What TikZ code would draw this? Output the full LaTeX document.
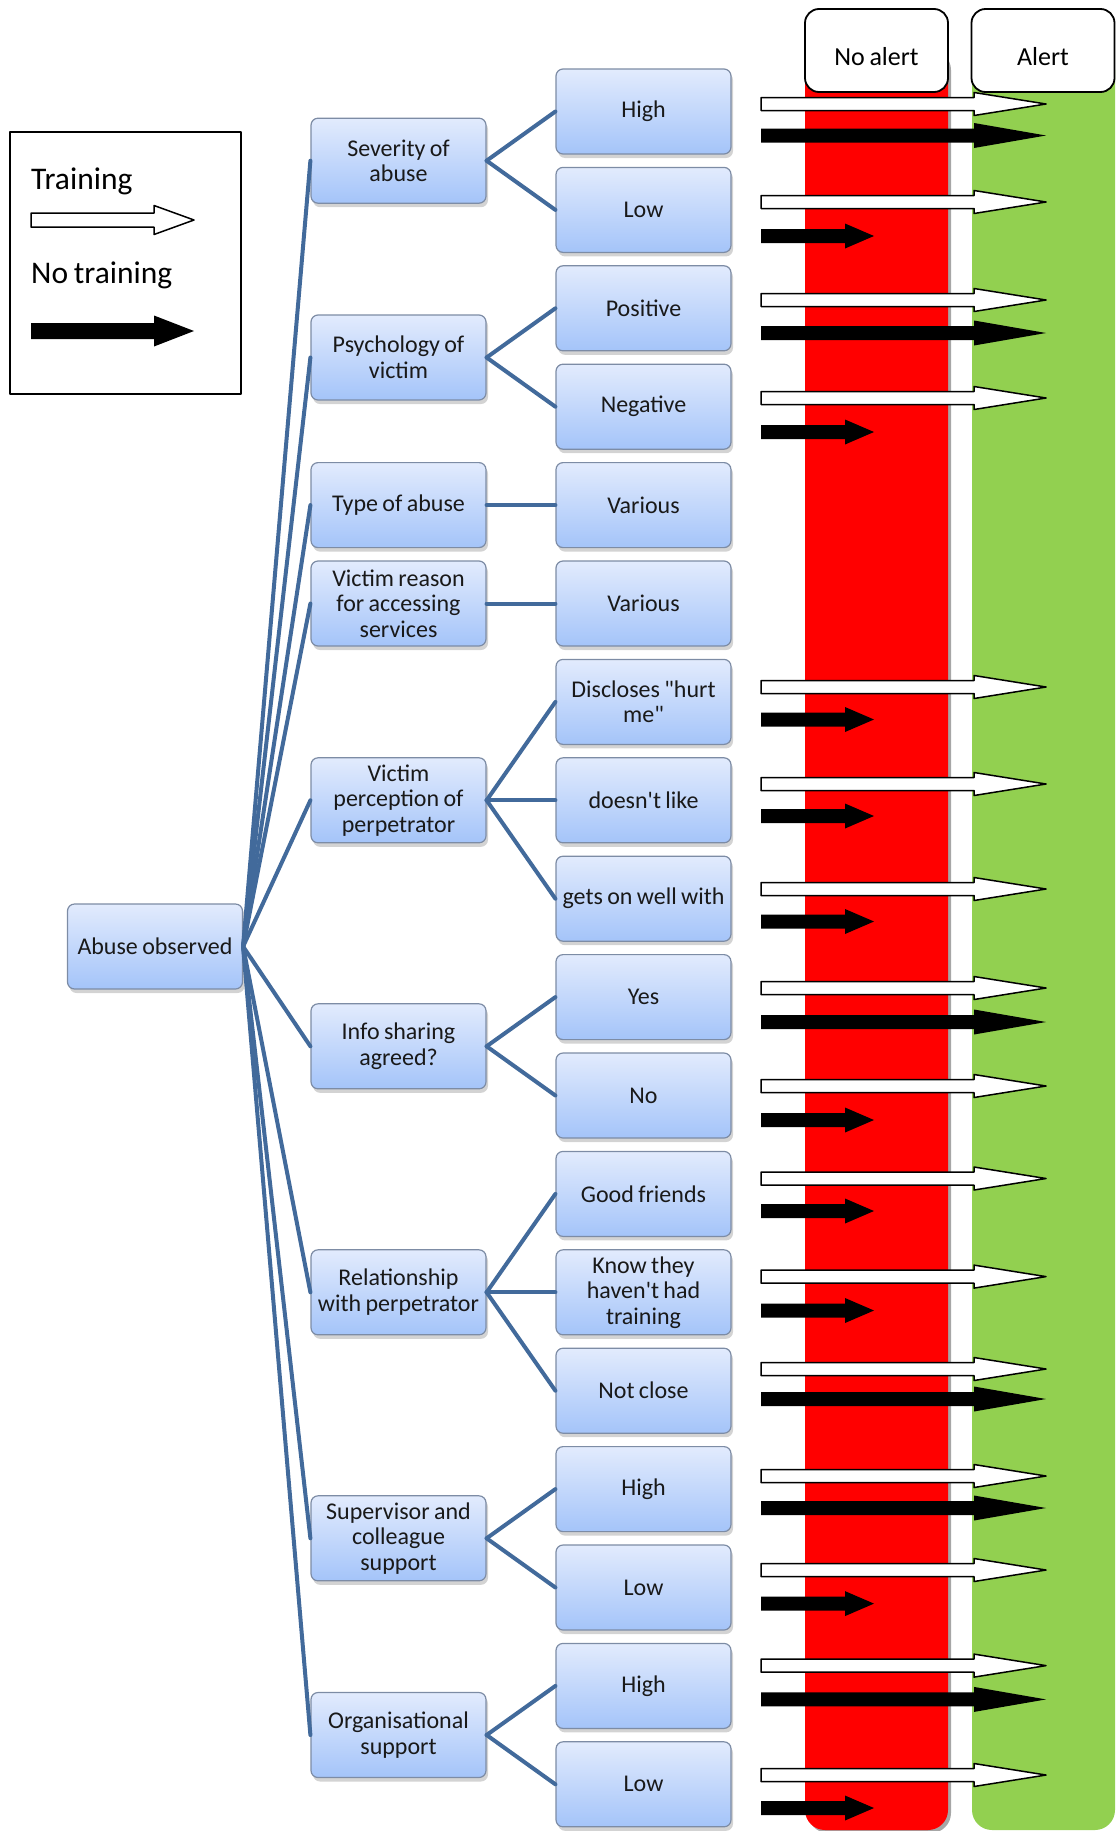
\documentclass[tikz,border=0pt]{standalone}
\usepackage{fontspec}
\setmainfont{Carlito}[WordSpace=0.8]
\usepackage{xcolor}
\usepackage{tikz}
\usetikzlibrary{positioning, shadows}

\definecolor{boxtop}{RGB}{226,235,253}
\definecolor{boxbottom}{RGB}{164,196,249}
\definecolor{boxborder}{RGB}{125,140,165}
\definecolor{linkblue}{RGB}{66,106,155}
\definecolor{noalertred}{RGB}{255,0,0}
\definecolor{alertgreen}{RGB}{146,208,80}

\begin{document}
\begin{tikzpicture}[
        x=1pt,
        y=-1pt,
        line join=round,
        line cap=round,
        box/.style={draw=boxborder, line width=1.2pt, rounded corners=7pt,
            top color=boxtop, bottom color=boxbottom,
            minimum width=175pt, minimum height=85pt,
            align=center, inner sep=0pt, text=black!90,
            font=\fontsize{24}{25.5}\selectfont,
            drop shadow={shadow xshift=2pt, shadow yshift=-4pt, opacity=0.35}},
        headbox/.style={draw=black, line width=1.8pt, fill=white,
            rounded corners=14pt, minimum width=143pt, minimum height=83pt,
            inner sep=0pt, text height=29pt, text depth=0pt,
            font=\fontsize{26}{28}\selectfont},
        link/.style={draw=linkblue, line width=4pt},
        trainarrow/.style={draw=black, line width=1.5pt, fill=white},
        notrainarrow/.style={fill=black}
    ]

        \useasboundingbox (0,0) rectangle (1118,1831);

        % =================================
        % CỘT KẾT QUẢ
        % =================================

        % No alert - bóng
        \fill[black!35, rounded corners=20pt]
            (808,50) rectangle (951,1833);

        % No alert
        \fill[noalertred, rounded corners=20pt]
            (805,50) rectangle (948,1830);

        % Alert
        \fill[alertgreen, rounded corners=20pt]
            (972,50) rectangle (1115,1830);

        \node[headbox] (noalert) at (876.5,50.5) {No alert};
        \node[headbox] (alert) at (1043,50.5) {Alert};


        % =================================
        % CHÚ THÍCH
        % =================================

        \draw[line width=1.8pt]
            (9.6,132) rectangle (241,394);

        \node[anchor=base west, inner sep=0pt,
            font=\fontsize{31.5}{33}\selectfont] (trainlabel)
            at (31,189) {Training};
        \node[anchor=base west, inner sep=0pt,
            font=\fontsize{31.5}{33}\selectfont] (notrainlabel)
            at (31,283) {No training};

        \draw[trainarrow]
            (31,213) -- (154,213) -- (154,205.5) -- (194,220)
            -- (154,234.5) -- (154,227) -- (31,227) -- cycle;

        \fill[notrainarrow]
            (31,323) -- (154,323) -- (154,315.5) -- (194,331)
            -- (154,346.5) -- (154,339) -- (31,339) -- cycle;


        % =================================
        % CÂY QUYẾT ĐỊNH
        % =================================

        % Gốc
        \node[box] (root) at (155,946.5) {Abuse observed};

        % Các yếu tố
        \node[box] (sev) at (398.5,160.7) {Severity of\\abuse};
        \node[box] (psy) at (398.5,357.5) {Psychology of\\victim};
        \node[box] (type) at (398.5,505.1) {Type of abuse};
        \node[box] (reason) at (398.5,603.5) {Victim reason\\for accessing\\services};
        \node[box] (percep) at (398.5,800.3) {Victim\\perception of\\perpetrator};
        \node[box] (info) at (398.5,1046.3) {Info sharing\\agreed?};
        \node[box] (rel) at (398.5,1292.3) {Relationship\\with perpetrator};
        \node[box] (sup) at (398.5,1538.3) {Supervisor and\\colleague\\support};
        \node[box] (org) at (398.5,1735) {Organisational\\support};

        % Các lựa chọn
        \node[box] (sevhigh) at (643.5,111.5) {High};
        \node[box] (sevlow) at (643.5,209.9) {Low};
        \node[box] (psypos) at (643.5,308.3) {Positive};
        \node[box] (psyneg) at (643.5,406.7) {Negative};
        \node[box] (typevar) at (643.5,505.1) {Various};
        \node[box] (reasonvar) at (643.5,603.5) {Various};
        \node[box] (hurt) at (643.5,701.9) {Discloses \textquotedbl hurt\\me\textquotedbl};
        \node[box] (dislike) at (643.5,800.3) {doesn\textquotesingle t like};
        \node[box] (wellwith) at (643.5,898.7) {gets on well with};
        \node[box] (infoyes) at (643.5,997.1) {Yes};
        \node[box] (infono) at (643.5,1095.5) {No};
        \node[box] (friends) at (643.5,1193.9) {Good friends};
        \node[box] (notrained) at (643.5,1292.3) {Know they\\haven\textquotesingle t had\\training};
        \node[box] (notclose) at (643.5,1390.7) {Not close};
        \node[box] (suphigh) at (643.5,1489.1) {High};
        \node[box] (suplow) at (643.5,1587.5) {Low};
        \node[box] (orghigh) at (643.5,1685.9) {High};
        \node[box] (orglow) at (643.5,1784.3) {Low};


        % =================================
        % ĐƯỜNG NỐI
        % =================================

        \foreach \m in {sev, psy, type, reason, percep, info, rel, sup, org}
            \draw[link] (root.east) -- (\m.west);

        \draw[link] (sev.east) -- (sevhigh.west);
        \draw[link] (sev.east) -- (sevlow.west);
        \draw[link] (psy.east) -- (psypos.west);
        \draw[link] (psy.east) -- (psyneg.west);
        \draw[link] (type.east) -- (typevar.west);
        \draw[link] (reason.east) -- (reasonvar.west);
        \draw[link] (percep.east) -- (hurt.west);
        \draw[link] (percep.east) -- (dislike.west);
        \draw[link] (percep.east) -- (wellwith.west);
        \draw[link] (info.east) -- (infoyes.west);
        \draw[link] (info.east) -- (infono.west);
        \draw[link] (rel.east) -- (friends.west);
        \draw[link] (rel.east) -- (notrained.west);
        \draw[link] (rel.east) -- (notclose.west);
        \draw[link] (sup.east) -- (suphigh.west);
        \draw[link] (sup.east) -- (suplow.west);
        \draw[link] (org.east) -- (orghigh.west);
        \draw[link] (org.east) -- (orglow.west);


        % =================================
        % MŨI TÊN KẾT QUẢ
        % =================================

        % Training - tới Alert
        \foreach \y in {104,202,300,398,687,784,889,988,1086,1178.5,
                1276.6,1369,1476,1570,1665.6,1775}
            \draw[trainarrow]
                (761,\y-6.5) -- (974,\y-6.5) -- (974,\y-11.5) -- (1046,\y)
                -- (974,\y+11.5) -- (974,\y+6.5) -- (761,\y+6.5) -- cycle;

        % No training - tới Alert
        \foreach \y in {135.5,333,1022,1399,1508,1699.4}
            \fill[notrainarrow]
                (761,\y-7) -- (974,\y-7) -- (974,\y-12.5) -- (1046,\y)
                -- (974,\y+12.5) -- (974,\y+7) -- (761,\y+7) -- cycle;

        % No training - dừng ở No alert
        \foreach \y in {236,432,719.5,816,921.5,1120,1211,1310.5,1603.6,1808}
            \fill[notrainarrow]
                (761,\y-7) -- (845,\y-7) -- (845,\y-12.5) -- (874,\y)
                -- (845,\y+12.5) -- (845,\y+7) -- (761,\y+7) -- cycle;

    \end{tikzpicture}
\end{document}
